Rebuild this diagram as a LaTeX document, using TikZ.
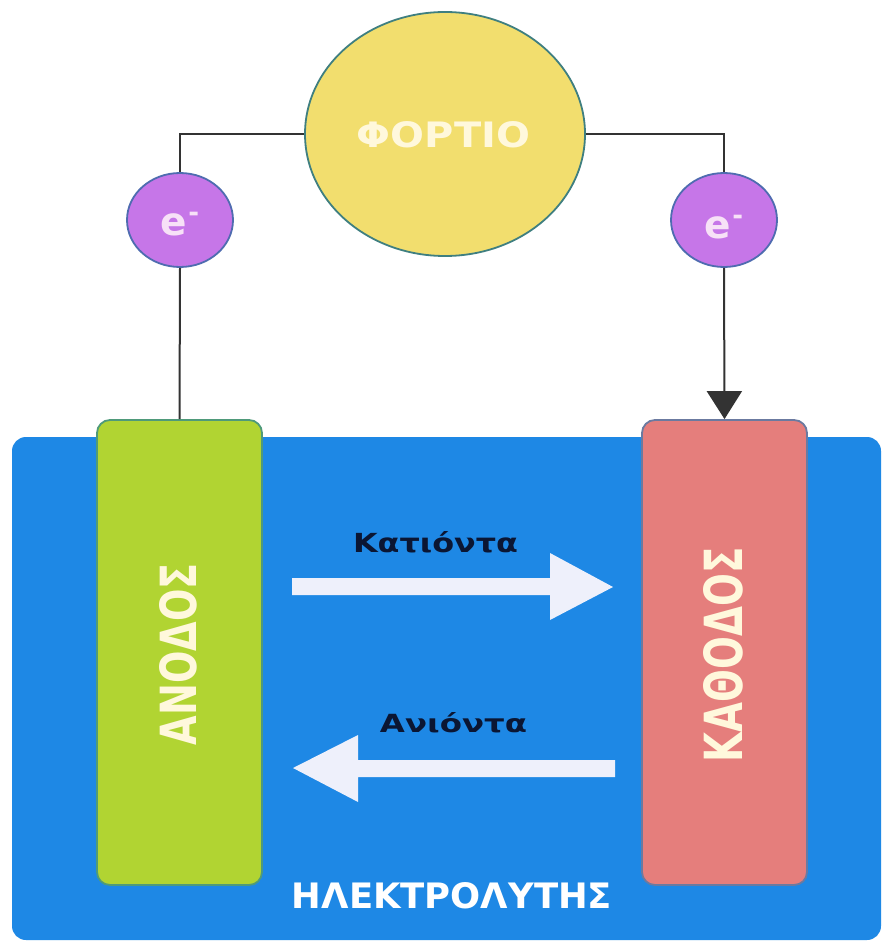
\documentclass[tikz,border=0pt]{standalone}
\usepackage{fontspec}
\setmainfont{DejaVu Sans}
\usetikzlibrary{shapes.geometric,arrows.meta}
\definecolor{elec}{HTML}{1E88E5}
\definecolor{anodeg}{HTML}{B1D432}
\definecolor{anodeb}{HTML}{4F9A7A}
\definecolor{cathr}{HTML}{E57E7C}
\definecolor{cathb}{HTML}{6B7AA0}
\definecolor{loady}{HTML}{F2DE6E}
\definecolor{loadb}{HTML}{3F7F80}
\definecolor{epurp}{HTML}{C676E8}
\definecolor{epurpb}{HTML}{4F6CB0}
\definecolor{cream}{HTML}{FFF8DC}
\definecolor{etext}{HTML}{F7E1F7}
\definecolor{arrw}{HTML}{EEF0FB}
\definecolor{dark}{HTML}{0B1633}
\definecolor{wire}{HTML}{333333}
\newcommand{\electronlabel}{\fontsize{39}{39}\selectfont\bfseries e\kern1pt\raisebox{14pt}{\fontsize{26}{26}\selectfont -}}
\tikzset{
  electrode/.style={draw, line width=1.8pt, rounded corners=13pt, minimum width=165pt, minimum height=465pt, inner sep=0pt},
  electron/.style={ellipse, draw=epurpb, fill=epurp, line width=1.8pt, minimum width=106pt, minimum height=94pt, inner sep=0pt},
  etxt/.style={inner sep=0pt, anchor=base, text=etext},
  wireline/.style={draw=wire, line width=2pt},
  flow/.style={fill=arrw},
  lbl/.style={inner sep=0pt, anchor=center}
}
\begin{document}
\begin{tikzpicture}[x=1pt,y=-1pt]
\useasboundingbox[fill=white] (0,0) rectangle (883,952);
% electrolyte
\fill[elec, rounded corners=14pt] (12,437) rectangle (881,940);
\node[lbl, text=white] (electrolyte) at (452,896) {\resizebox{320pt}{26pt}{\bfseries ΗΛΕΚΤΡΟΛΥΤΗΣ}};
% electrodes
\node[electrode, draw=anodeb, fill=anodeg] (anode) at (179.5,652.5) {};
\node[electrode, draw=cathb, fill=cathr] (cathode) at (724.5,652.5) {};
\node[lbl, rotate=90, text=cream] (anodetext) at (178.5,654) {\resizebox{182pt}{37pt}{\bfseries ΑΝΟΔΟΣ}};
\node[lbl, rotate=90, text=cream] (cathtext) at (723.5,654.5) {\resizebox{215pt}{39pt}{\bfseries ΚΑΘΟΔΟΣ}};
% load
\node[ellipse, draw=loadb, fill=loady, line width=1.8pt, minimum width=280pt, minimum height=244pt, inner sep=0pt, text=cream] (load) at (445,134) {};
\node[lbl, text=cream] (loadtext) at (443.5,135) {\resizebox{173pt}{26pt}{\bfseries ΦΟΡΤΙΟ}};
% electrons
\node[electron] (e1) at (180,220) {};
\node[electron] (e2) at (724,220) {};
\node[etxt] (e1text) at (180,235) {\electronlabel};
\node[etxt] (e2text) at (724,238) {\electronlabel};
% wires
\draw[wireline] (load.west) -| (e1.north);
\draw[wireline] (load.east) -| (e2.north);
\draw[wireline] (e1.south) -- (anode.north);
\draw[wireline, -{Triangle[width=35pt,length=28pt]}, wire] (e2.south) -- (cathode.north);
% ion flow arrows
\fill[flow] (292,578) -- (550,578) -- (550,553) -- (613,587) -- (550,620) -- (550,595) -- (292,595) -- cycle;
\fill[flow] (615,760) -- (358,760) -- (358,735) -- (293,768) -- (358,802) -- (358,777) -- (615,777) -- cycle;
\node[lbl, text=dark] (cations) at (435.5,542.5) {\resizebox{165pt}{21pt}{\bfseries Κατιόντα}};
\node[lbl, text=dark] (anions) at (453.5,723) {\resizebox{147pt}{20pt}{\bfseries Ανιόντα}};
\end{tikzpicture}
\end{document}
